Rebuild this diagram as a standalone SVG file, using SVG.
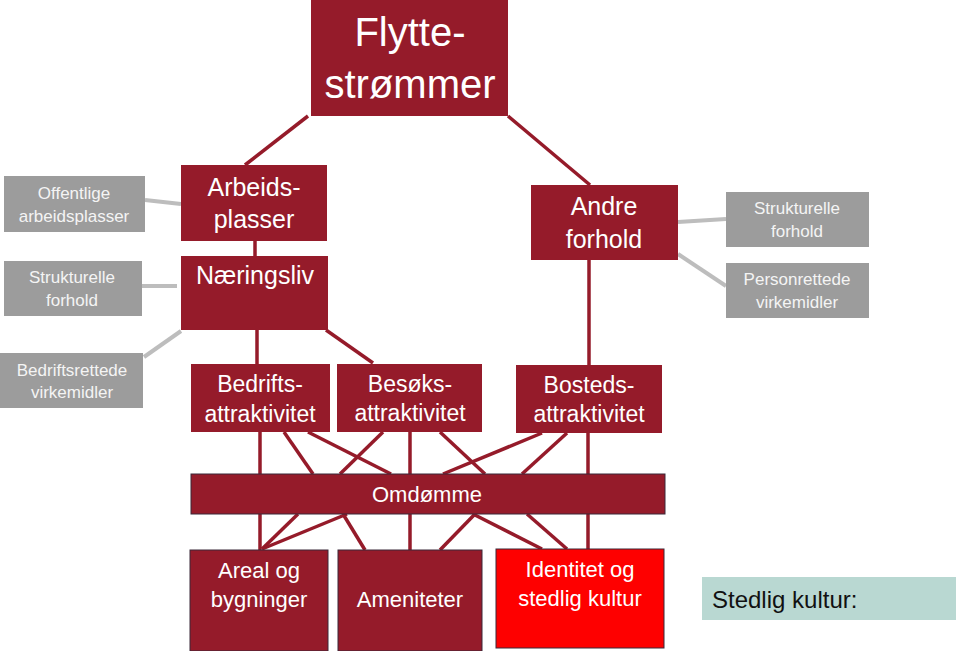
<svg xmlns="http://www.w3.org/2000/svg" width="960" height="651" viewBox="0 0 960 651">
<style>
.dr{fill:#951b2a}
.gr{fill:#9c9c9c}
.bx{stroke:#3b2838;stroke-width:1}
.t{font-family:"Liberation Sans",Arial,sans-serif;fill:#ffffff;text-anchor:middle}
.gt{font-family:"Liberation Sans",Arial,sans-serif;fill:#f4f4f4;text-anchor:middle;font-size:17px}
.ln{stroke:#951b2a;stroke-width:3.5;fill:none}
.gl{stroke:#bdbdbd;stroke-width:4;fill:none}
</style>
<rect width="960" height="651" fill="#ffffff"/>
<g id="connectors">
<line class="ln" x1="308" y1="116" x2="245" y2="165"/>
<line class="ln" x1="508" y1="116" x2="590" y2="185"/>
<line class="ln" x1="255" y1="241" x2="255" y2="256"/>
<line class="ln" x1="589" y1="260" x2="589" y2="365"/>
<line class="ln" x1="257" y1="330" x2="257" y2="364"/>
<line class="ln" x1="326" y1="330" x2="373" y2="363"/>
<line class="gl" x1="145" y1="200" x2="181" y2="204"/>
<line class="gl" x1="142" y1="286" x2="177" y2="286"/>
<line class="gl" x1="144" y1="357" x2="181" y2="331"/>
<line class="gl" x1="678" y1="222" x2="726" y2="219"/>
<line class="gl" x1="678" y1="254" x2="726" y2="286"/>
<line class="ln" x1="260" y1="432" x2="260" y2="474"/>
<line class="ln" x1="284" y1="432" x2="313" y2="474"/>
<line class="ln" x1="308" y1="432" x2="391" y2="474"/>
<line class="ln" x1="383" y1="432" x2="340" y2="474"/>
<line class="ln" x1="410" y1="432" x2="410" y2="474"/>
<line class="ln" x1="440" y1="432" x2="485" y2="474"/>
<line class="ln" x1="542" y1="433" x2="443" y2="474"/>
<line class="ln" x1="567" y1="433" x2="522" y2="474"/>
<line class="ln" x1="588" y1="433" x2="588" y2="474"/>
<line class="ln" x1="260" y1="514" x2="260" y2="550"/>
<line class="ln" x1="298" y1="514" x2="262" y2="549"/>
<line class="ln" x1="347" y1="514" x2="262" y2="549"/>
<line class="ln" x1="343" y1="514" x2="365" y2="550"/>
<line class="ln" x1="410" y1="514" x2="410" y2="550"/>
<line class="ln" x1="475" y1="514" x2="440" y2="550"/>
<line class="ln" x1="473" y1="514" x2="542" y2="549"/>
<line class="ln" x1="527" y1="514" x2="567" y2="549"/>
<line class="ln" x1="588" y1="514" x2="588" y2="549"/>
</g>
<g id="flyttestrommer">
<rect class="dr" x="311" y="0" width="197" height="116"/>
<text class="t" x="410" y="46" font-size="40">Flytte-</text>
<text class="t" x="410" y="98" font-size="40">strømmer</text>
</g>
<g id="arbeidsplasser">
<rect class="dr" x="181" y="165" width="146" height="76"/>
<text class="t" x="254" y="196" font-size="25">Arbeids-</text>
<text class="t" x="254" y="228" font-size="25">plasser</text>
</g>
<g id="naeringsliv">
<rect class="dr" x="181" y="256" width="147" height="74"/>
<text class="t" x="255" y="284" font-size="25">Næringsliv</text>
</g>
<g id="offentlige">
<rect class="gr" x="4" y="176" width="141" height="56"/>
<text class="gt" x="74" y="199">Offentlige</text>
<text class="gt" x="74" y="222">arbeidsplasser</text>
</g>
<g id="strukturelle-venstre">
<rect class="gr" x="4" y="261" width="138" height="55"/>
<text class="gt" x="72" y="283">Strukturelle</text>
<text class="gt" x="72" y="306">forhold</text>
</g>
<g id="bedriftsrettede">
<rect class="gr" x="0" y="353" width="143" height="55"/>
<text class="gt" x="72" y="376">Bedriftsrettede</text>
<text class="gt" x="72" y="398">virkemidler</text>
</g>
<g id="andre-forhold">
<rect class="dr" x="531" y="185" width="147" height="75"/>
<text class="t" x="604" y="215" font-size="25">Andre</text>
<text class="t" x="604" y="248" font-size="25">forhold</text>
</g>
<g id="strukturelle-hoyre">
<rect class="gr" x="726" y="192" width="143" height="55"/>
<text class="gt" x="797" y="214">Strukturelle</text>
<text class="gt" x="797" y="237">forhold</text>
</g>
<g id="personrettede">
<rect class="gr" x="726" y="263" width="143" height="55"/>
<text class="gt" x="797" y="285">Personrettede</text>
<text class="gt" x="797" y="308">virkemidler</text>
</g>
<g id="bedriftsattraktivitet">
<rect class="dr" x="191" y="364" width="139" height="68"/>
<text class="t" x="260" y="392" font-size="23">Bedrifts-</text>
<text class="t" x="260" y="422" font-size="23">attraktivitet</text>
</g>
<g id="besoksattraktivitet">
<rect class="dr" x="337" y="364" width="145" height="68"/>
<text class="t" x="410" y="392" font-size="23">Besøks-</text>
<text class="t" x="410" y="421" font-size="23">attraktivitet</text>
</g>
<g id="bostedsattraktivitet">
<rect class="dr" x="516" y="365" width="146" height="68"/>
<text class="t" x="589" y="393" font-size="23">Bosteds-</text>
<text class="t" x="589" y="422" font-size="23">attraktivitet</text>
</g>
<g id="omdomme">
<rect class="dr bx" x="191" y="474" width="474" height="40"/>
<text class="t" x="427" y="502" font-size="22">Omdømme</text>
</g>
<g id="areal">
<rect class="dr bx" x="190" y="550" width="138" height="101"/>
<text class="t" x="259" y="578" font-size="22">Areal og</text>
<text class="t" x="259" y="607" font-size="22">bygninger</text>
</g>
<g id="ameniteter">
<rect class="dr bx" x="338" y="550" width="144" height="101"/>
<text class="t" x="410" y="607" font-size="22">Ameniteter</text>
</g>
<g id="identitet">
<rect class="bx" x="496" y="549" width="168" height="99" fill="#fe0000"/>
<text class="t" x="580" y="577" font-size="22">Identitet og</text>
<text class="t" x="580" y="606" font-size="22">stedlig kultur</text>
</g>
<g id="stedlig-kultur">
<rect x="702" y="577" width="254" height="43" fill="#b9d8d2"/>
<text x="712" y="608" font-family="Liberation Sans, Arial, sans-serif" font-size="24" fill="#111111">Stedlig kultur:</text>
</g>
</svg>
